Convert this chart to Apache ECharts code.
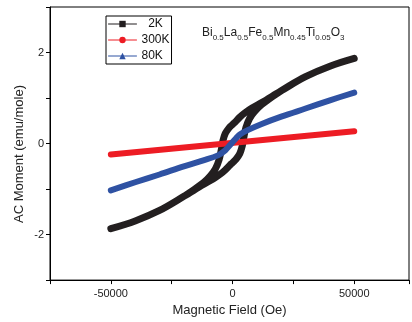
<!DOCTYPE html>
<html>
<head>
<meta charset="utf-8">
<script src="https://cdn.jsdelivr.net/npm/echarts@6/dist/echarts.min.js"></script>
<style>
  html, body { margin: 0; padding: 0; background: #fff; }
  #chart { width: 412px; height: 322px; }
</style>
</head>
<body>
<div id="chart"></div>
<script>
// 2K loop: field going down from +50000, then back up
const field2K = [50000, 40000, 30000, 20000, 12000, 8000, 5000, 3000, 1000, 0, -1500, -3000, -4000, -4500, -5500, -7000, -9000, -12000, -20000, -30000, -40000, -50000,
  -40000, -30000, -20000, -12000, -8000, -5000, -3000, -1000, 0, 1500, 3000, 4000, 4500, 5500, 7000, 9000, 12000, 20000, 30000, 40000, 50000];
const moment2K = [1.87, 1.70, 1.47, 1.16, 0.90, 0.78, 0.67, 0.58, 0.47, 0.42, 0.34, 0.22, 0.05, -0.10, -0.35, -0.55, -0.70, -0.86, -1.16, -1.47, -1.70, -1.87,
  -1.70, -1.47, -1.16, -0.90, -0.78, -0.67, -0.58, -0.47, -0.42, -0.34, -0.22, -0.05, 0.10, 0.35, 0.55, 0.70, 0.86, 1.16, 1.47, 1.70, 1.87];

const field300K = [-50000, 50000];
const moment300K = [-0.24, 0.27];

const field80K = [-50000, -40000, -30000, -20000, -12000, -6000, -3000, -1500, 0, 1500, 3000, 6000, 12000, 20000, 30000, 40000, 50000];
const moment80K = [-1.03, -0.85, -0.68, -0.50, -0.37, -0.26, -0.15, -0.06, 0.03, 0.12, 0.20, 0.29, 0.43, 0.59, 0.77, 0.95, 1.12];

const seriesNames = ['2K', '300K', '80K'];
const xTicks = { min: -75000, max: 72500, step: 25000, labelStep: 50000 };
const yTicks = { min: -3, max: 3, step: 1, labelStep: 2 };

const zip = (xs, ys) => xs.map((x, i) => [x, ys[i]]);

const font = 'Liberation Sans, Arial, sans-serif';
const chart = echarts.init(document.getElementById('chart'));

const lineSeries = (name, data, color, symbol, width) => ({
  name: name,
  type: 'line',
  data: data,
  symbol: symbol,
  symbolSize: 6,
  showSymbol: false,
  smooth: 0.35,
  color: color,
  lineStyle: { width: width, color: color, cap: 'round', join: 'round' },
  animation: false
});

const option = {
  animation: false,
  textStyle: { fontFamily: font },
  grid: {
    left: 50, top: 7, right: 1, bottom: 41,
    show: true, borderColor: '#000', borderWidth: 1
  },
  xAxis: {
    type: 'value',
    min: xTicks.min, max: xTicks.max, interval: xTicks.step,
    splitLine: { show: false },
    axisLine: { onZero: false, lineStyle: { color: '#000', width: 1 } },
    axisTick: { length: 4, lineStyle: { color: '#000' } },
    axisLabel: {
      color: '#222', fontSize: 11, margin: 8, fontFamily: font,
      formatter: v => (v % xTicks.labelStep === 0 ? String(v) : '')
    },
    name: 'Magnetic Field (Oe)',
    nameLocation: 'middle',
    nameGap: 22,
    nameTextStyle: { color: '#222', fontSize: 13, fontFamily: font }
  },
  yAxis: {
    type: 'value',
    min: yTicks.min, max: yTicks.max, interval: yTicks.step,
    splitLine: { show: false },
    axisLine: { onZero: false, lineStyle: { color: '#000', width: 1 } },
    axisTick: { length: 4, lineStyle: { color: '#000' } },
    axisLabel: {
      color: '#222', fontSize: 11, margin: 6, fontFamily: font,
      formatter: v => (v % yTicks.labelStep === 0 ? String(v) : '')
    }
  },
  legend: {
    orient: 'vertical',
    left: 106, top: 16,
    padding: [1, 2, 1, 2],
    itemGap: 2,
    itemWidth: 28,
    itemHeight: 8,
    borderColor: '#000',
    borderWidth: 1,
    lineStyle: { width: 1 },
    data: seriesNames,
    formatter: n => (n === '2K' ? '  2K' : n),
    textStyle: { color: '#111', fontSize: 12, lineHeight: 14, fontFamily: font }
  },
  graphic: [
    {
      type: 'text', x: 19, y: 154, rotation: Math.PI / 2,
      style: { text: 'AC Moment (emu/mole)', fill: '#222', font: '13px ' + font, align: 'center', verticalAlign: 'middle' }
    },
    {
      type: 'text', x: 202, y: 24,
      style: {
        text: '{m|Bi}{s|0.5}{m|La}{s|0.5}{m|Fe}{s|0.5}{m|Mn}{s|0.45}{m|Ti}{s|0.05}{m|O}{s|3}',
        rich: {
          m: { fontSize: 12, lineHeight: 18, verticalAlign: 'middle', fontFamily: font, fill: '#222' },
          s: { fontSize: 8, lineHeight: 6, verticalAlign: 'bottom', fontFamily: font, fill: '#222' }
        }
      }
    }
  ],
  series: [
    lineSeries(seriesNames[0], zip(field2K, moment2K), '#231f20', 'rect', 7),
    lineSeries(seriesNames[1], zip(field300K, moment300K), '#ed1c24', 'circle', 6),
    lineSeries(seriesNames[2], zip(field80K, moment80K), '#2f52a3', 'triangle', 6)
  ]
};

chart.setOption(option);
</script>
</body>
</html>
